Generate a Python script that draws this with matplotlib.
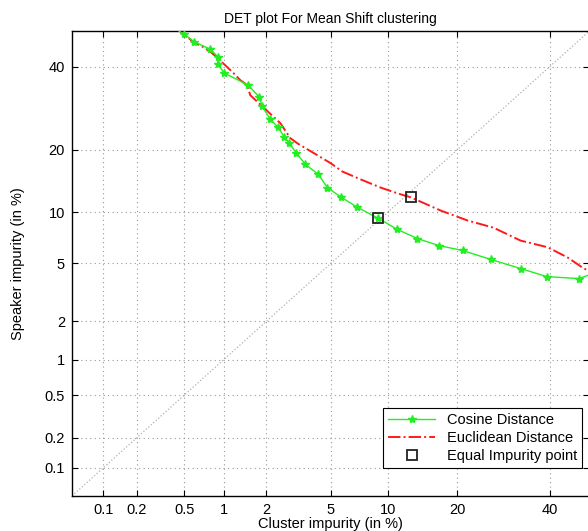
import math
import numpy as np
import matplotlib
matplotlib.use('Agg')
from matplotlib import pyplot as plt
from statistics import NormalDist

plt.rcParams['font.family'] = ['Liberation Sans', 'DejaVu Sans']

# data in percent
cos_x = [0.40, 0.50, 0.60, 0.795, 0.91, 0.91, 1.01, 1.50, 1.79, 1.87, 2.12, 2.39, 2.62, 2.82,
         3.12, 3.54, 4.24, 4.78, 5.74, 7.01, 8.99, 11.1, 13.7, 16.9, 21.0, 26.5, 33.1, 39.3,
         47.3, 52.0]
cos_y = [51.1, 49.1, 46.9, 44.9, 42.7, 40.7, 38.3, 35.1, 32.0, 29.7, 26.6, 24.8, 22.6, 21.4,
         19.35, 17.3, 15.5, 13.4, 11.96, 10.6, 9.24, 8.01, 7.10, 6.45, 6.02, 5.30, 4.64, 4.11,
         3.99, 4.4]
euc_x = [0.40, 0.50, 0.587, 0.70, 0.82, 0.99, 1.18, 1.32, 1.48, 1.55, 1.90, 2.47, 2.86, 3.21,
         4.07, 4.98, 5.81, 7.27, 9.20, 11.2, 12.8, 17.2, 21.9, 27.1, 33.1, 39.5, 44.5, 48.6,
         52.9]
euc_y = [51.5, 49.1, 46.9, 45.5, 43.8, 41.0, 38.3, 36.4, 35.1, 32.5, 29.5, 25.7, 22.4, 21.2,
         19.2, 17.5, 16.0, 14.7, 13.4, 12.5, 11.96, 10.2, 9.0, 8.2, 6.9, 6.3, 5.45, 4.64,
         4.2]
eq_x = [8.99, 12.8]
eq_y = [9.24, 11.96]

ticks = [0.1, 0.2, 0.5, 1, 2, 5, 10, 20, 40]
tick_labels = ['0.1', '0.2', '0.5', '1', '2', '5', '10', '20', '40']

nd = NormalDist()

def _ppf1(p):
    if math.isnan(p):
        return np.nan
    return nd.inv_cdf(min(max(p / 100.0, 1e-12), 1 - 1e-12))

def _cdf1(z):
    if math.isnan(z):
        return np.nan
    return nd.cdf(z) * 100.0

_ppf = np.vectorize(_ppf1, otypes=[float])
_cdf = np.vectorize(_cdf1, otypes=[float])

def fwd(p):
    return _ppf(np.asarray(p, dtype=float))

def inv(z):
    return _cdf(np.asarray(z, dtype=float))

fig = plt.figure(figsize=(5.88, 5.31), dpi=100)
ax = fig.add_axes([0.1224, 0.0659, 0.880, 0.8757])
ax.set_xscale('function', functions=(fwd, inv))
ax.set_yscale('function', functions=(fwd, inv))
ax.set_xlim(0.05, 50)
ax.set_ylim(0.05, 50)

# diagonal x = y
ax.plot([0.05, 50], [0.05, 50], ':', color='#b0b0b0', lw=0.9, zorder=1)
ax.plot(cos_x, cos_y, '-', color='#22ee22', lw=1, marker='*', ms=6, mec='#22ee22',
        label='Cosine Distance', zorder=3)
ax.plot(euc_x, euc_y, '-.', color='#ff1a1a', lw=1.4, label='Euclidean Distance', zorder=2)
ax.plot(eq_x, eq_y, 's', mfc='none', mec='#222222', mew=1.3, ms=7,
        label='Equal Impurity point', zorder=4)

ax.set_xticks(ticks)
ax.set_xticklabels(tick_labels)
ax.set_yticks(ticks)
ax.set_yticklabels(tick_labels)
ax.minorticks_off()
ax.grid(True, ls=(0, (1, 3)), color='#999999', lw=0.8)
ax.tick_params(direction='in', top=True, right=True, labelsize=10.5, length=4, pad=5)
for s in ax.spines.values():
    s.set_linewidth(1)

ax.set_title('DET plot For Mean Shift clustering', fontsize=10, pad=6)
ax.set_xlabel('Cluster impurity (in %)', fontsize=10.5, labelpad=0)
ax.set_ylabel('Speaker impurity (in %)', fontsize=10.5, labelpad=14)

leg = ax.legend(loc='lower right', fontsize=10.5, fancybox=False, framealpha=1,
                edgecolor='black', handlelength=3.2, borderpad=0.35, labelspacing=0.25,
                bbox_to_anchor=(1.0, 0.045))
leg.get_frame().set_linewidth(0.8)

plt.savefig('out.png', dpi=100)
